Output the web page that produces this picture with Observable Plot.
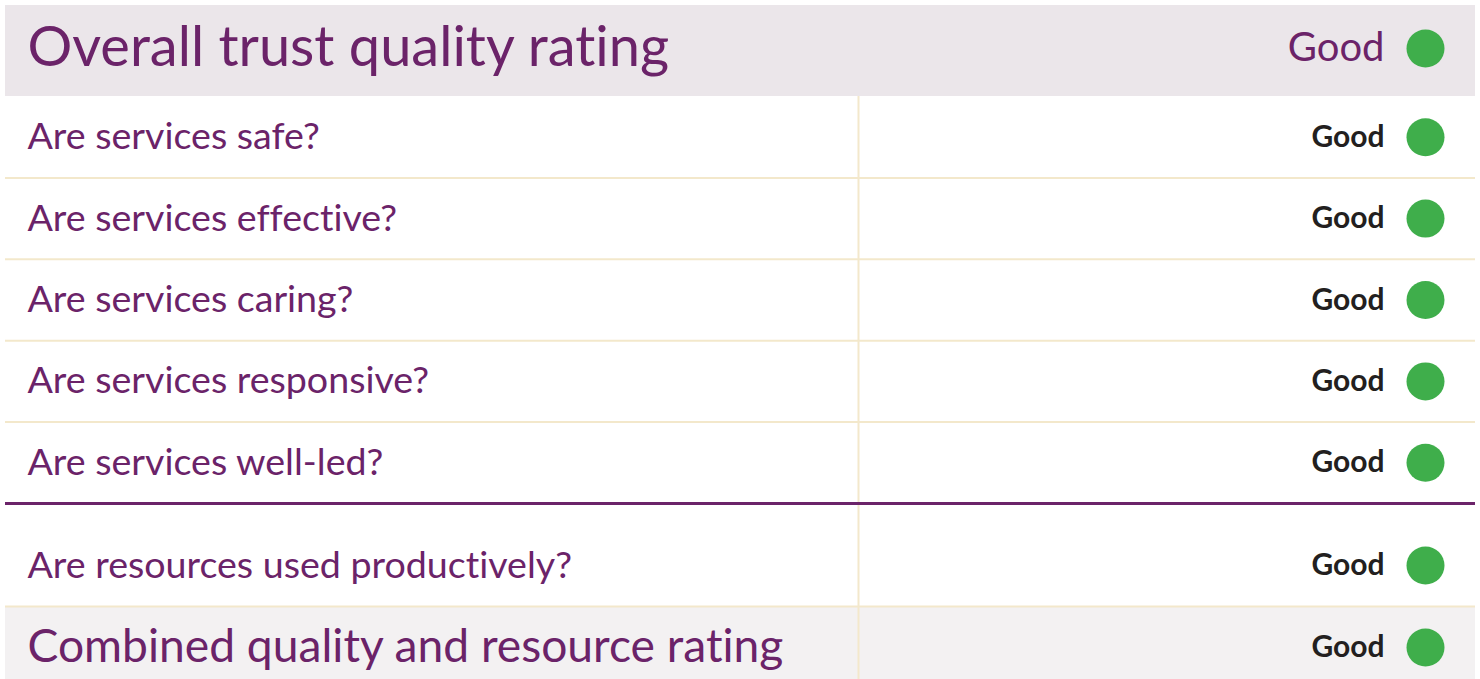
<!DOCTYPE html>
<html><head><meta charset="utf-8">
<script src="https://cdn.jsdelivr.net/npm/d3@7"></script>
<script src="https://cdn.jsdelivr.net/npm/@observablehq/plot@0.6"></script>
<style>html,body{margin:0;padding:0;background:#fff}svg{display:block}svg text{font-variant-ligatures:none;font-feature-settings:"liga" 0,"clig" 0}</style>
</head><body><div id="chart"></div>
<script>
// ---- data ----
const headerLabel = "Overall trust quality rating";
const headerRating = "Good";
const questionLabels = [
  "Are services safe?",
  "Are services effective?",
  "Are services caring?",
  "Are services responsive?",
  "Are services well-led?"
];
const questionRatings = ["Good", "Good", "Good", "Good", "Good"];
const resourceLabel = "Are resources used productively?";
const resourceRating = "Good";
const combinedLabel = "Combined quality and resource rating";
const combinedRating = "Good";
const ratingColors = {Good: "#3fae4b", "Requires improvement": "#f5a623", Inadequate: "#d0021b", Outstanding: "#1a7fc1"};

// ---- layout (table geometry, in px units of the chart) ----
const W = 1480, H = 679;
const left = 5, right = 1475, divider = 858;
const headerTop = 5, headerBottom = 96;
const qRowH = (503 - 96) / questionLabels.length;
const purple = "#6b2369", beige = "#f3e8cb", ink = "#231f20";
const font = "Lato, 'Open Sans', sans-serif";

const rows = [];
rows.push({label: headerLabel, rating: headerRating, kind: "header", top: headerTop, bottom: headerBottom, textY: 48});
questionLabels.forEach((l, i) => rows.push({label: l, rating: questionRatings[i], kind: "q", top: 96 + qRowH * i, bottom: 96 + qRowH * (i + 1)}));
rows.push({label: resourceLabel, rating: resourceRating, kind: "q", top: 503, bottom: 606, textY: 565});
rows.push({label: combinedLabel, rating: combinedRating, kind: "combined", top: 606, bottom: H, textY: 647});
rows.forEach(r => { r.mid = r.textY ?? (r.top + r.bottom) / 2; });

const qSeps = rows.filter(r => r.kind === "q").slice(0, 4).map(r => r.bottom);

const plot = Plot.plot({
  width: W, height: H,
  margin: 0,
  x: {domain: [0, W], range: [0, W], axis: null},
  y: {domain: [0, H], range: [0, H], axis: null},
  style: {background: "#fff", fontFamily: font},
  marks: [
    // backgrounds
    Plot.rect(rows.filter(r => r.kind !== "q"), {x1: left, x2: right, y1: "top", y2: "bottom",
      fill: d => d.kind === "header" ? "#ebe6ea" : "#f3f1f2"}),
    // vertical divider
    Plot.ruleX([divider], {y1: headerBottom, y2: H, stroke: beige, strokeWidth: 2}),
    // horizontal separators
    Plot.ruleY(qSeps, {x1: left, x2: right, stroke: beige, strokeWidth: 2}),
    Plot.ruleY([606], {x1: left, x2: right, stroke: beige, strokeWidth: 2}),
    Plot.ruleY([503], {x1: left, x2: right, stroke: purple, strokeWidth: 3}),
    // labels
    Plot.text(rows.filter(r => r.kind === "header"), {x: 27, y: "mid", text: "label", textAnchor: "start", lineAnchor: "middle", fill: purple, fontSize: 56}),
    Plot.text(rows.filter(r => r.kind === "q"), {x: 27, y: "mid", text: "label", textAnchor: "start", lineAnchor: "middle", fill: purple, fontSize: 37.6}),
    Plot.text(rows.filter(r => r.kind === "combined"), {x: 27, y: "mid", text: "label", textAnchor: "start", lineAnchor: "middle", fill: purple, fontSize: 46.2}),
    // ratings
    Plot.text(rows.filter(r => r.kind === "header"), {x: 1384, y: "mid", text: "rating", textAnchor: "end", lineAnchor: "middle", fill: purple, fontSize: 40}),
    Plot.text(rows.filter(r => r.kind !== "header"), {x: 1384, y: "mid", text: "rating", textAnchor: "end", lineAnchor: "middle", fill: ink, fontSize: 30, fontWeight: "bold"}),
    // dots
    Plot.dot(rows, {x: 1425, y: "mid", r: 19, fill: d => ratingColors[d.rating], stroke: null})
  ]
});
document.getElementById("chart").appendChild(plot);
</script>
</body></html>
